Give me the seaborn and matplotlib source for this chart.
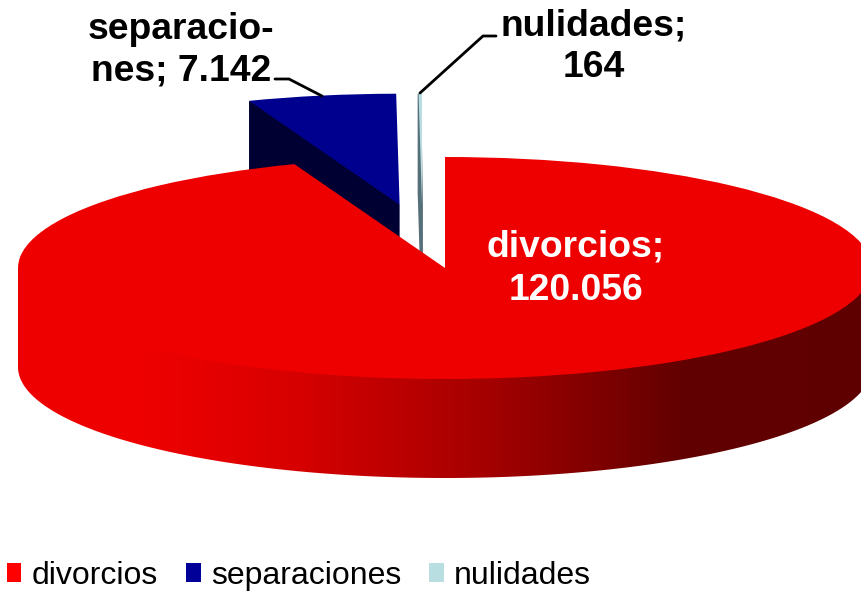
import numpy as np
import matplotlib
matplotlib.use("Agg")
import matplotlib.pyplot as plt
from matplotlib.colors import LinearSegmentedColormap
from matplotlib.patches import Patch, Polygon
import seaborn as sns

categories = ["divorcios", "separaciones", "nulidades"]
values = [120056, 7142, 164]
label_text = ["divorcios;\n120.056", "separacio-\nnes; 7.142", "nulidades;\n164"]
top_colors = ["#EE0000", "#00008E", "#B8DEE2"]
side_colors = ["#EE0000", "#000033", "#56707A"]
legend_colors = ["#FF0000", "#000099", "#B8DEE2"]
explode = [0, 0.58, 0.57]

W, H = 861, 591
CX, CY, RX, RY, DEPTH = 445, 268, 427, 111, 99

sns.set_theme(style="white")
plt.rcParams["font.family"] = ["Liberation Sans", "DejaVu Sans"]

fig = plt.figure(figsize=(W / 100, H / 100), dpi=100)
ax = fig.add_axes([0, 0, 1, 1])
wedges, _ = ax.pie(values, colors=sns.color_palette(top_colors), startangle=90,
                   counterclock=False, explode=explode, radius=1,
                   wedgeprops=dict(linewidth=0))
ax.set_aspect("auto")
xlim = (-CX / RX, (W - CX) / RX)
ylim = ((CY - H) / RY, CY / RY)
d = DEPTH / RY


def px(x, y):
    return (x - CX) / RX, (CY - y) / RY


# nulidades sits left of its radial direction in the reference
cx_n, cy_n = wedges[2].center
wedges[2].set_center((cx_n + px(423, 0)[0], cy_n))

# cut faces of the two pulled-out slices (tucked slightly under the top surface)
for i in (1, 2):
    w = wedges[i]
    t = np.radians(w.theta2)
    tm = np.radians(0.5 * (w.theta1 + w.theta2))
    cx, cy = w.center
    ox, oy = cx + np.cos(t), cy + np.sin(t)
    ix, iy = cx + 0.5 * np.cos(tm), cy + 0.5 * np.sin(tm)
    face = Polygon([(ox, oy), (ix, iy), (cx, cy), (cx, cy - d), (ox, oy - d)], closed=True,
                   facecolor=side_colors[i], edgecolor=side_colors[i],
                   linewidth=0 if i == 1 else 1.3, zorder=1 + i)
    ax.add_patch(face)
    w.set_zorder(1.5 + i)

# outer wall of the large slice with its left-to-right shading
th = np.radians(np.linspace(180, 360, 400))
wall = np.concatenate([np.c_[np.cos(th[[0]]), [0.0]],
                       np.c_[np.cos(th[[-1]]), [0.0]],
                       np.c_[np.cos(th[::-1]), np.sin(th[::-1]) - d]])
clip = Polygon(wall, closed=True, transform=ax.transData, facecolor="none", linewidth=0)
ax.add_patch(clip)
stops = [(0.0, "#EE0000"), (0.15, "#EE0000"), (0.25, "#E20000"), (0.33, "#D60000"),
         (0.55, "#A40000"), (0.78, "#620000"), (1.0, "#5F0000")]
cmap = LinearSegmentedColormap.from_list("wall", stops)
grad = np.linspace(0, 1, 512)[None, :]
im = ax.imshow(grad, cmap=cmap, extent=(-1, 1, -1 - d, 0), aspect="auto",
               zorder=5, interpolation="bilinear")
im.set_clip_path(clip)
wedges[0].set_zorder(6)

ax.set_xlim(*xlim)
ax.set_ylim(*ylim)
ax.axis("off")

# data labels
lab = dict(ha="center", va="center", fontsize=26.8, fontweight="bold", zorder=10)
ax.text(*px(576, 269), label_text[0], color="white", linespacing=1.3, **lab)
ax.text(*px(181, 50), label_text[1], color="black", linespacing=1.24, **lab)
ax.text(*px(594, 47), label_text[2], color="black", linespacing=1.24, **lab)

# leader lines
ax.plot(*zip(px(275, 79), px(289, 79), px(322, 96)), color="black", lw=2, zorder=9,
        solid_joinstyle="miter")
ax.plot(*zip(px(496, 36), px(483, 36), px(420, 93)), color="black", lw=2, zorder=9,
        solid_joinstyle="miter")

handles = [Patch(facecolor=c, edgecolor="none", label=n)
           for c, n in zip(legend_colors, categories)]
fig.legend(handles=handles, loc="lower left", bbox_to_anchor=(-0.0035, -0.016), ncol=3,
           frameon=False, fontsize=23.0, handlelength=0.46, handleheight=0.54,
           handletextpad=0.32, columnspacing=0.88, borderaxespad=0, borderpad=0.3,
           labelcolor="black")

fig.savefig("out.png", dpi=100)
